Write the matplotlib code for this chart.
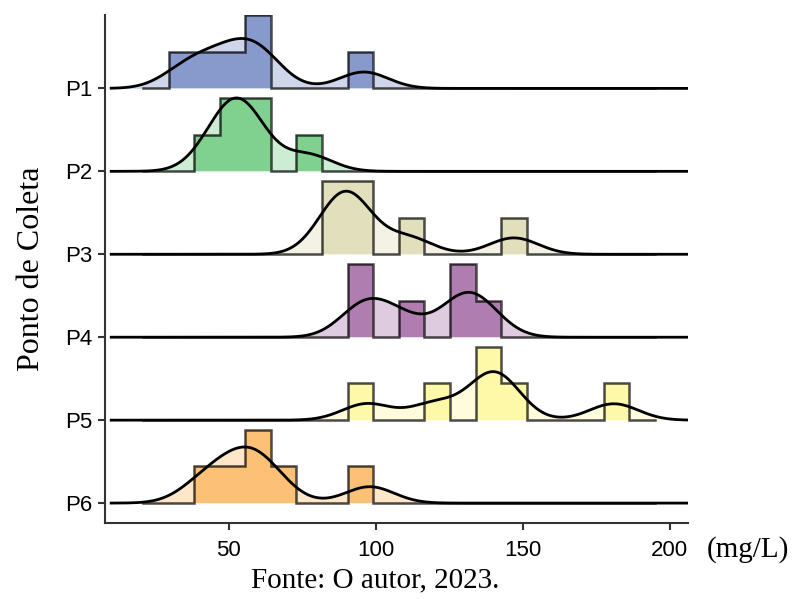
import numpy as np
import matplotlib
matplotlib.use("Agg")
import matplotlib.pyplot as plt

# ---- data (mg/L), 6 samples per collection point ----
sites = ["P1", "P2", "P3", "P4", "P5", "P6"]
p1 = [35, 44, 52, 58, 62, 96]
p2 = [46, 50, 53, 56, 57, 77]
p3 = [86, 89, 91, 93, 111, 147]
p4 = [95, 98, 109, 128, 131, 137]
p5 = [97, 120, 138, 140, 143, 181]
p6 = [41, 49, 56, 58, 65, 98]
values = [p1, p2, p3, p4, p5, p6]

hist_colors = ["#8899CC", "#80D090", "#E2DFBC", "#B07DB0", "#FDF9A8", "#FCC177"]
dens_colors = ["#CFD6EB", "#CCECD3", "#F3F2E4", "#DFCBDF", "#FEFCDC", "#FEE6C9"]

xticks = [50, 100, 150, 200]
bin_start, bin_width, n_bins = 20.9, 8.7, 20
bw = 8.3
scale = 0.885

edges = bin_start + bin_width * np.arange(n_bins + 1)
xmin_all = min(min(v) for v in values) - 3 * bw
xmax_all = max(max(v) for v in values) + 3 * bw
xs = np.linspace(xmin_all, xmax_all, 600)

def kde(v):
    v = np.asarray(v, float)
    d = np.exp(-0.5 * ((xs[:, None] - v[None, :]) / bw) ** 2).sum(axis=1)
    return d / (len(v) * bw * np.sqrt(2 * np.pi))

dens = [kde(v) for v in values]
dmax = max(d.max() for d in dens)
counts = [np.histogram(v, bins=edges)[0] for v in values]
cmax = max(c.max() for c in counts)

fig = plt.figure(figsize=(7.92, 5.99), dpi=100)
ax = fig.add_axes([105 / 792, 1 - 523 / 599, (688 - 105) / 792, (523 - 15) / 599])

n = len(sites)
for i, name in enumerate(sites):
    base = n - 1 - i
    z = 2 + i * 4
    d = dens[i] / dmax * scale + base
    ax.fill_between(xs, base, d, color=dens_colors[i], lw=0, zorder=z)
    c = counts[i] / cmax * scale
    sx = np.repeat(edges, 2)
    sy = np.concatenate([[0], np.repeat(c, 2), [0]]) + base
    ax.fill_between(sx, base, sy, color=hist_colors[i], lw=0, zorder=z + 1)
    ax.plot(sx, sy, color="#000000", alpha=0.7, lw=1.8, zorder=z + 2,
            solid_joinstyle="miter")
    ax.plot(xs, d, color="black", lw=2.0, zorder=z + 3)

ax.set_xlim(8.0, 206.2)
ax.set_ylim(-0.24, n - 1 + scale)
ax.set_yticks(range(n))
ax.set_yticklabels(sites[::-1], fontsize=16, family="Liberation Sans")
ax.set_xticks(xticks)
ax.set_xticklabels([str(t) for t in xticks], fontsize=16, family="Liberation Sans")
for s in ["top", "right"]:
    ax.spines[s].set_visible(False)
for s in ["left", "bottom"]:
    ax.spines[s].set_color("#333333")
    ax.spines[s].set_linewidth(1.5)
ax.tick_params(axis="both", colors="#333333", width=1.5, length=5, labelcolor="black")
ax.tick_params(axis="y", pad=4)
ax.tick_params(axis="x", pad=7)

ax.set_ylabel("Ponto de Coleta", fontsize=23, family="Liberation Serif", labelpad=14)
fig.text(748 / 792, 1 - 550 / 599, "(mg/L)", fontsize=21, family="Liberation Serif",
         ha="center", va="center")
fig.text(375 / 792, 1 - 580 / 599, "Fonte: O autor, 2023.", fontsize=21,
         family="Liberation Serif", ha="center", va="center")

fig.savefig("out.png", dpi=100)
